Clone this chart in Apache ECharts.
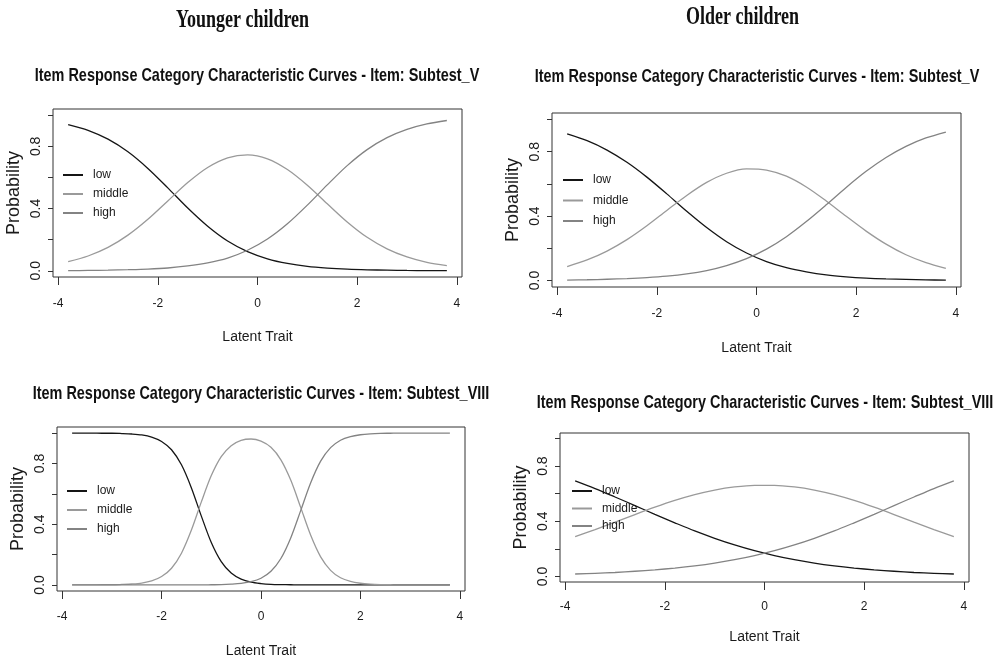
<!DOCTYPE html>
<html><head><meta charset="utf-8">
<script src="https://cdn.jsdelivr.net/npm/echarts@6/dist/echarts.min.js"></script>
<style>html,body{margin:0;padding:0;background:#fff}#c{width:1001px;height:659px}</style>
</head><body><div id="c"></div>
<script>
// ---- data ----
const thetaA = [-3.8,-3.4,-3.0,-2.6,-2.2,-1.8,-1.4,-1.0,-0.6,-0.2,0.2,0.6,1.0,1.4,1.8,2.2,2.6,3.0,3.4,3.8];
const thetaB = [-3.8,-3.6,-3.4,-3.2,-3.0,-2.8,-2.6,-2.4,-2.2,-2.0,-1.8,-1.6,-1.4,-1.2,-1.0,-0.8,-0.6,-0.4,-0.2,0.0,
                0.2,0.4,0.6,0.8,1.0,1.2,1.4,1.6,1.8,2.0,2.2,2.4,2.6,2.8,3.0,3.2,3.4,3.6,3.8];

const youngV_low  = [0.940,0.903,0.846,0.765,0.658,0.533,0.403,0.286,0.191,0.123,0.077,0.047,0.028,0.017,0.010,0.006,0.004,0.002,0.001,0.001];
const youngV_mid  = [0.059,0.095,0.150,0.229,0.331,0.449,0.567,0.664,0.726,0.745,0.720,0.651,0.550,0.431,0.314,0.215,0.141,0.089,0.054,0.033];
const youngV_high = [0.001,0.002,0.004,0.007,0.011,0.018,0.031,0.051,0.082,0.132,0.204,0.302,0.422,0.552,0.676,0.779,0.856,0.909,0.944,0.966];

const oldV_low  = [0.910,0.868,0.810,0.734,0.642,0.538,0.430,0.329,0.241,0.171,0.118,0.080,0.054,0.035,0.023,0.015,0.010,0.007,0.004,0.003];
const oldV_mid  = [0.087,0.128,0.183,0.254,0.340,0.435,0.528,0.609,0.666,0.693,0.686,0.648,0.581,0.494,0.399,0.307,0.226,0.160,0.111,0.075];
const oldV_high = [0.003,0.005,0.008,0.012,0.018,0.027,0.041,0.062,0.093,0.136,0.195,0.272,0.366,0.470,0.578,0.678,0.764,0.833,0.885,0.922];

const youngVIII_low  = [1.000,1.000,1.000,0.999,0.999,0.997,0.994,0.988,0.974,0.945,0.890,0.791,0.639,0.453,0.279,0.153,0.078,0.038,0.018,0.009,
                        0.004,0.002,0.001,0.000,0.000,0.000,0.000,0.000,0.000,0.000,0.000,0.000,0.000,0.000,0.000,0.000,0.000,0.000,0.000];
const youngVIII_mid  = [0.000,0.000,0.000,0.001,0.001,0.003,0.006,0.012,0.026,0.055,0.110,0.209,0.361,0.547,0.720,0.845,0.917,0.952,0.961,0.947,
                        0.906,0.824,0.689,0.509,0.327,0.185,0.096,0.047,0.023,0.011,0.005,0.002,0.001,0.000,0.000,0.000,0.000,0.000,0.000];
const youngVIII_high = [0.000,0.000,0.000,0.000,0.000,0.000,0.000,0.000,0.000,0.000,0.000,0.000,0.000,0.000,0.001,0.002,0.005,0.010,0.021,0.044,
                        0.090,0.174,0.311,0.491,0.673,0.815,0.904,0.953,0.977,0.989,0.995,0.998,0.999,1.000,1.000,1.000,1.000,1.000,1.000];

const oldVIII_low  = [0.693,0.637,0.576,0.514,0.450,0.389,0.330,0.277,0.229,0.187,0.152,0.122,0.097,0.077,0.061,0.048,0.038,0.029,0.023,0.018];
const oldVIII_mid  = [0.289,0.340,0.394,0.449,0.502,0.551,0.593,0.626,0.649,0.661,0.661,0.649,0.626,0.593,0.551,0.502,0.449,0.394,0.340,0.289];
const oldVIII_high = [0.018,0.023,0.029,0.038,0.048,0.061,0.077,0.097,0.122,0.152,0.187,0.229,0.277,0.330,0.389,0.450,0.514,0.576,0.637,0.693];

const categories = ['low','middle','high'];
const xTicks = [-4,-2,0,2,4];
const yTicks = [0,0.2,0.4,0.6,0.8,1.0];
const yLabelTicks = [0,0.4,0.8];
const columnTitles = ['Younger children','Older children'];
const panelTitles = [
  'Item Response Category Characteristic Curves - Item: Subtest_V',
  'Item Response Category Characteristic Curves - Item: Subtest_V',
  'Item Response Category Characteristic Curves - Item: Subtest_VIII',
  'Item Response Category Characteristic Curves - Item: Subtest_VIII'
];

// ---- layout / style ----
const colors = {low:'#151515', middle:'#9a9a9a', high:'#838383'};
const panels = [
  {theta:thetaA, vals:[youngV_low,youngV_mid,youngV_high], grid:{left:53,top:109,width:409,height:168},
   tx:257, ty:76, lg:{left:63, top:168, gap:5}, xm:21, xn:53, ym:10, yn:30},
  {theta:thetaA, vals:[oldV_low,oldV_mid,oldV_high], grid:{left:552,top:113,width:409,height:174},
   tx:757, ty:77, lg:{left:563, top:173, gap:6.5}, xm:21, xn:54, ym:10, yn:30},
  {theta:thetaB, vals:[youngVIII_low,youngVIII_mid,youngVIII_high], grid:{left:57,top:427,width:408,height:165},
   tx:261, ty:394, lg:{left:67, top:484, gap:5}, xm:20, xn:53, ym:10, yn:30},
  {theta:thetaA, vals:[oldVIII_low,oldVIII_mid,oldVIII_high], grid:{left:560,top:433,width:409,height:149},
   tx:765, ty:403, lg:{left:572, top:484, gap:3.5}, xm:19, xn:48, ym:10, yn:30}
];

const sans = '"Liberation Sans",Arial,sans-serif';
const axisCol = '#333';

const option = {
  backgroundColor:'#fff',
  animation:false,
  grid: panels.map(p => Object.assign({show:true, borderColor:axisCol, borderWidth:1, backgroundColor:'transparent', containLabel:false}, p.grid)),
  xAxis: panels.map((p,i) => ({
    gridIndex:i, type:'value', min:-4.104, max:4.104,
    axisLine:{show:false, onZero:false},
    splitLine:{show:false},
    axisTick:{show:true, length:8, customValues:xTicks, lineStyle:{color:axisCol}},
    axisLabel:{customValues:xTicks, margin:p.xm, fontFamily:sans, fontSize:12, color:'#1a1a1a', formatter:v=>String(v)},
    name:'Latent Trait', nameLocation:'middle', nameGap:p.xn,
    nameTextStyle:{fontFamily:sans, fontSize:14, color:'#1a1a1a'}
  })),
  yAxis: panels.map((p,i) => ({
    gridIndex:i, type:'value', min:-0.04, max:1.04,
    axisLine:{show:false, onZero:false},
    splitLine:{show:false},
    axisTick:{show:true, length:5, customValues:yTicks, lineStyle:{color:axisCol}},
    axisLabel:{customValues:yLabelTicks, rotate:90, margin:p.ym, fontFamily:sans, fontSize:14, color:'#1a1a1a', formatter:v=>v.toFixed(1)},
    name:'Probability', nameLocation:'middle', nameGap:p.yn, nameRotate:90,
    nameTextStyle:{fontFamily:sans, fontSize:18, color:'#1a1a1a'}
  })),
  legend: panels.map(p => ({
    orient:'vertical', left:p.lg.left, top:p.lg.top, itemGap:p.lg.gap, padding:0,
    icon:'rect', itemWidth:20, itemHeight:2, selectedMode:false,
    data:categories,
    textStyle:{fontFamily:sans, fontSize:12, lineHeight:14, color:'#1a1a1a', padding:[0,0,0,5]}
  })),
  series: [],
  graphic: []
};

panels.forEach((p,i) => {
  categories.forEach((c,k) => {
    option.series.push({
      type:'line', name:c, xAxisIndex:i, yAxisIndex:i,
      data:p.theta.map((t,j)=>[t, p.vals[k][j]]),
      symbol:'none', smooth:0.3, silent:true,
      lineStyle:{color:colors[c], width:1.3},
      itemStyle:{color:colors[c]}
    });
  });
  option.graphic.push({
    type:'text', x:p.tx, y:p.ty, scaleX:0.76, silent:true,
    style:{text:panelTitles[i], font:'bold 19px "Liberation Sans", Arial, sans-serif', fill:'#111',
           align:'center', verticalAlign:'middle', textAlign:'center', textVerticalAlign:'middle'}
  });
});
[[242.5,21],[742.5,18]].forEach((pos,i) => {
  option.graphic.push({
    type:'text', x:pos[0], y:pos[1], scaleX:0.72, silent:true,
    style:{text:columnTitles[i], font:'bold 25px "Liberation Serif", "Times New Roman", serif', fill:'#111',
           align:'center', verticalAlign:'middle', textAlign:'center', textVerticalAlign:'middle'}
  });
});

const chart = echarts.init(document.getElementById('c'), null, {renderer:'canvas'});
chart.setOption(option);
</script></body></html>
